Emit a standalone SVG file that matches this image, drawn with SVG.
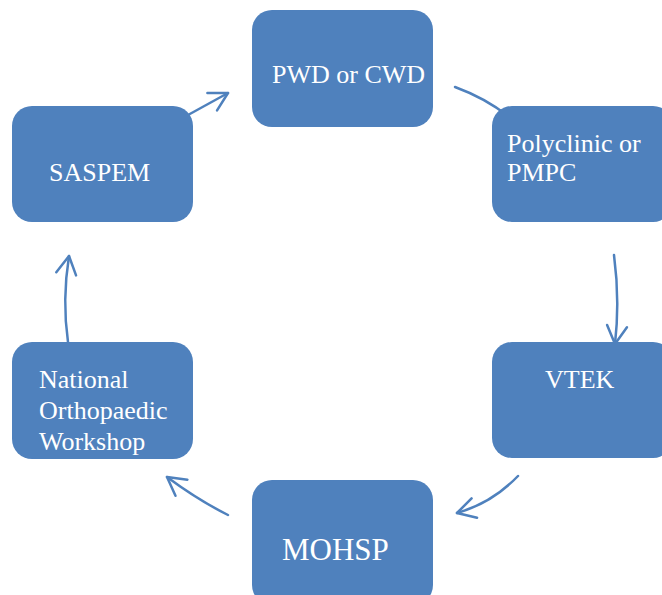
<svg xmlns="http://www.w3.org/2000/svg" width="662" height="595" viewBox="0 0 662 595">
<style>
.box{fill:#4F81BD;}
.t{fill:#FFFFFF;font-family:"Liberation Serif","Times New Roman",serif;font-size:26px;}
.c{fill:none;stroke:#4F81BD;stroke-width:2.5;stroke-linecap:round;}
</style>
<defs>
<marker id="ah" markerUnits="userSpaceOnUse" markerWidth="40" markerHeight="40" refX="0" refY="0" viewBox="-25 -20 30 40" orient="auto" overflow="visible">
<path d="M-18,-10 L0,0 L-18,10" fill="none" stroke="#4F81BD" stroke-width="2.5" stroke-linecap="round" stroke-linejoin="round"/>
</marker>
</defs>
<rect width="662" height="595" fill="#FFFFFF"/>
<g id="connectors">
<path class="c" d="M188,115 L228,93" marker-end="url(#ah)"/>
<path class="c" d="M455,87 Q485,98 508,116"/>
<path class="c" d="M614,255 Q620,300 615,344" marker-end="url(#ah)"/>
<path class="c" d="M518,476 Q492,503 457,513" marker-end="url(#ah)"/>
<path class="c" d="M228,515 Q198,500 167,477" marker-end="url(#ah)"/>
<path class="c" d="M68,342 Q62,300 69,256" marker-end="url(#ah)"/>
</g>
<g id="pwd">
<rect class="box" x="252" y="10" width="181" height="117" rx="20"/>
<text class="t" x="272" y="83">PWD or CWD</text>
</g>
<g id="polyclinic">
<rect class="box" x="492" y="106" width="181" height="116" rx="20"/>
<text class="t" x="507" y="152">Polyclinic or</text>
<text class="t" x="507" y="181">PMPC</text>
</g>
<g id="vtek">
<rect class="box" x="492" y="342" width="181" height="116" rx="20"/>
<text class="t" x="545" y="388">VTEK</text>
</g>
<g id="mohsp">
<rect class="box" x="252" y="480" width="181" height="125" rx="20"/>
<text class="t" x="282" y="560" style="font-size:31px">MOHSP</text>
</g>
<g id="workshop">
<rect class="box" x="12" y="342" width="181" height="117" rx="20"/>
<text class="t" x="39" y="388">National</text>
<text class="t" x="39" y="419">Orthopaedic</text>
<text class="t" x="39" y="450">Workshop</text>
</g>
<g id="saspem">
<rect class="box" x="12" y="106" width="181" height="116" rx="20"/>
<text class="t" x="49" y="181">SASPEM</text>
</g>
</svg>
